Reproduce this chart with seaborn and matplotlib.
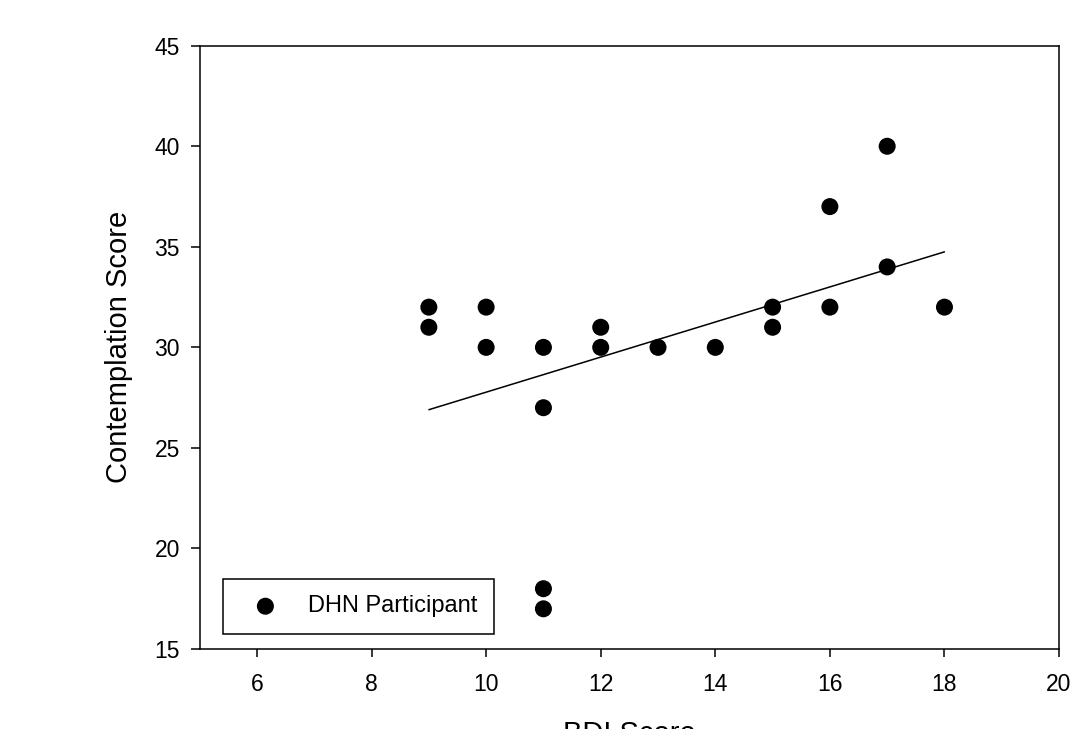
import matplotlib
matplotlib.use("Agg")
import matplotlib.pyplot as plt
import seaborn as sns
import pandas as pd

# values
bdi_score = [9, 9, 10, 10, 11, 11, 11, 11, 12, 12, 13, 14, 15, 15, 16, 16, 17, 17, 18]
contemplation = [32, 31, 32, 30, 30, 27, 18, 17, 31, 30, 30, 30, 32, 31, 37, 32, 40, 34, 32]

# regression line as drawn in the reference
fit_x = [9, 18]
fit_y = [26.9, 34.75]

x_ticks = [6, 8, 10, 12, 14, 16, 18, 20]
y_ticks = [15, 20, 25, 30, 35, 40, 45]

sns.set_style("ticks")
plt.rcParams['font.family'] = ['Liberation Sans', 'DejaVu Sans']
plt.rcParams['text.color'] = 'black'
plt.rcParams['axes.labelcolor'] = 'black'

df = pd.DataFrame({"BDI Score": bdi_score, "Contemplation Score": contemplation})
fit = pd.DataFrame({"x": fit_x, "y": fit_y})

fig = plt.figure(figsize=(10.9, 7.29), dpi=100)
ax = fig.add_axes([0.1832, 0.1097, 0.7884, 0.8276])

sns.scatterplot(data=df, x="BDI Score", y="Contemplation Score", ax=ax,
                color="black", s=150, edgecolor="none", label="DHN Participant", zorder=3)
sns.lineplot(data=fit, x="x", y="y", ax=ax, color="black", linewidth=1.1, zorder=2, legend=False)

ax.set_xlim(5, 20)
ax.set_ylim(15, 45)
ax.set_xticks(x_ticks)
ax.set_yticks(y_ticks)
ax.tick_params(labelsize=16.5, width=1.1, color="black", labelcolor="black")
ax.tick_params(axis="x", length=5.5, pad=12)
ax.tick_params(axis="y", length=6.3, pad=8)
for sp in ax.spines.values():
    sp.set_visible(True)
    sp.set_linewidth(1.1)
    sp.set_color("black")

ax.set_xlabel("BDI Score", fontsize=21, labelpad=17)
ax.set_ylabel("Contemplation Score", fontsize=21, labelpad=15)

leg = ax.legend(loc="lower left", bbox_to_anchor=(0.027, 0.025), borderaxespad=0,
                fontsize=17, frameon=True, fancybox=False, edgecolor="black",
                framealpha=1, borderpad=0.7, handlelength=2.2, handletextpad=0.7,
                markerscale=1.0)
leg.get_frame().set_linewidth(1.1)

fig.savefig("out.png", dpi=100)
